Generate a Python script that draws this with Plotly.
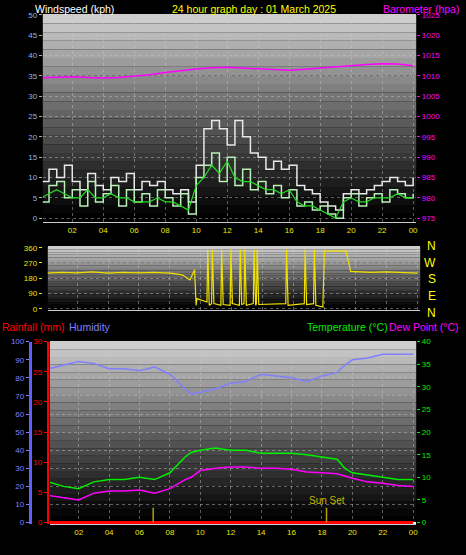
import plotly.graph_objects as go

# half-hourly wind (kph)
wind_t = [i * 0.5 for i in range(49)]
gust = [9, 12, 10, 13, 9, 7, 11, 8, 7, 10, 9, 11, 7, 9, 8, 9, 7, 6, 7, 4, 13, 22, 24, 22, 18,
        24, 20, 16, 15, 12, 14, 12, 13, 8, 7, 6, 4, 3, 2, 6, 7, 6, 7, 8, 9, 10, 9, 8, 10]
wind_raw = [4, 8, 9, 5, 7, 3, 9, 4, 6, 8, 3, 7, 4, 6, 3, 7, 5, 3, 6, 1, 10, 13, 16, 9, 15,
            8, 12, 7, 9, 6, 8, 5, 7, 3, 4, 2, 3, 1, 0, 5, 6, 3, 5, 6, 4, 7, 6, 5, 6]
wind_avg = [5, 6, 7, 6, 5, 5, 7, 5, 5, 6, 5, 5, 4, 4, 4, 5, 4, 4, 3, 2, 8, 10, 13, 11, 14,
            10, 9, 9, 8, 7, 7, 6, 7, 4, 3, 3, 2, 1, 0, 4, 5, 4, 4, 5, 5, 5, 6, 5, 5]

baro_t = list(range(25))
baro = [1009.5, 1009.7, 1009.8, 1009.6, 1009.5, 1009.6, 1009.9, 1010.3, 1010.8, 1011.3,
        1011.7, 1012.0, 1012.1, 1011.9, 1011.7, 1011.5, 1011.4, 1011.6, 1011.9, 1012.3,
        1012.6, 1012.8, 1013.0, 1012.9, 1012.5]

dir_t = [0, 1, 2, 3, 4, 5, 6, 7, 8, 8.8, 9.3, 9.6, 9.7, 9.75, 10.4, 10.45, 10.55, 10.7, 10.75,
         10.85, 11.3, 11.35, 11.45, 11.9, 11.95, 12.05, 12.5, 12.55, 12.65, 12.8, 12.85, 12.95,
         13.4, 13.45, 13.55, 13.6, 13.65, 13.75, 15.5, 15.55, 15.65, 16.7, 16.75, 16.85, 17.3,
         17.35, 17.45, 17.9, 18.0, 19.4, 19.7, 21, 22, 23, 24]
wind_dir = [210, 215, 212, 218, 210, 215, 212, 215, 210, 200, 170, 230, 20, 60, 40, 350, 20, 30,
            350, 30, 20, 350, 25, 20, 350, 30, 20, 350, 25, 30, 350, 20, 30, 350, 20, 30, 350, 25,
            30, 350, 20, 30, 350, 25, 30, 350, 20, 10, 340, 340, 220, 215, 218, 215, 210]

th_t = [0, 1, 2, 3, 4, 5, 6, 7, 8, 9, 9.4, 10, 11, 12, 13, 14, 15, 16, 17, 18, 19, 19.5, 20,
        21, 22, 23, 24]
humidity = [85, 87, 89, 88, 85, 85, 84, 86, 82, 74, 71, 72, 74, 77, 78, 82, 81, 80, 78, 81, 83,
            87, 90, 91, 93, 93, 93]
temp = [9, 8, 7.5, 9, 9.5, 9.5, 10, 9.5, 11, 14.5, 15.5, 16, 16.5, 16, 16, 15.3, 15.3, 15.3,
        15, 14.5, 14, 12, 11, 10.5, 10, 9.5, 9.5]
dew = [6, 5.5, 5, 6.5, 7, 7, 7.2, 6.5, 7.5, 9.5, 10, 11.5, 12, 12.3, 12.3, 12, 12, 11.8, 11.2,
       11, 10.8, 10.3, 9.8, 9, 8.7, 8.2, 8]
rain = [0] * len(th_t)
sun_t = [6.9, 18.3]
sun_lbl = ["", "Sun Set"]

hour_vals = list(range(2, 25, 2))
hour_txt = ["%02d" % (h % 24) for h in hour_vals]

FONT = "Liberation Sans"
W, H = 466, 555


def dom(a, b, n):
    return [a / n, b / n]


def ydom(top, bottom):
    return [(H - bottom) / H, (H - top) / H]


fig = go.Figure()

fig.add_trace(go.Scatter(x=wind_t, y=gust, mode="lines", line=dict(color="#e8e8e8", width=1.5, shape="hv"),
                         xaxis="x", yaxis="y"))
fig.add_trace(go.Scatter(x=wind_t, y=wind_raw, mode="lines", line=dict(color="#b8f0b8", width=1.5, shape="hv"),
                         xaxis="x", yaxis="y"))
fig.add_trace(go.Scatter(x=wind_t, y=wind_avg, mode="lines", line=dict(color="#22dd22", width=1.2),
                         xaxis="x", yaxis="y"))
fig.add_trace(go.Scatter(x=baro_t, y=baro, mode="lines", line=dict(color="#ff00ff", width=1.5),
                         xaxis="x", yaxis="y2"))
fig.add_trace(go.Scatter(x=dir_t, y=wind_dir, mode="lines", line=dict(color="#f0e000", width=1.2),
                         xaxis="x2", yaxis="y3"))
fig.add_trace(go.Scatter(x=th_t, y=humidity, mode="lines", line=dict(color="#8080ff", width=1.5),
                         xaxis="x3", yaxis="y4"))
fig.add_trace(go.Scatter(x=th_t, y=temp, mode="lines", line=dict(color="#00ee00", width=1.5),
                         xaxis="x3", yaxis="y6"))
fig.add_trace(go.Scatter(x=th_t, y=dew, mode="lines", line=dict(color="#ff00ff", width=1.5),
                         xaxis="x3", yaxis="y6"))
fig.add_trace(go.Scatter(x=th_t, y=rain, mode="lines", line=dict(color="#ff0000", width=3),
                         xaxis="x3", yaxis="y5"))
for t, lbl in zip(sun_t, sun_lbl):
    fig.add_trace(go.Scatter(x=[t, t], y=[0, 3.3], mode="lines", line=dict(color="#b0a000", width=1.5),
                             xaxis="x3", yaxis="y6"))
    if lbl:
        fig.add_annotation(x=t, y=3.3, xref="x3", yref="y6", text=lbl, showarrow=False,
                           yanchor="bottom", font=dict(color="#c8b800", size=10, family=FONT))

# gradient backgrounds
for xr, yr in [("x", "y"), ("x2", "y3"), ("x3", "y4")]:
    n = 24
    for i in range(n):
        g = int(205 * (1 - i / (n - 1)) ** 1.1)
        fig.add_shape(type="rect", xref=xr + " domain", yref=yr + " domain", x0=0, x1=1,
                      y0=1 - (i + 1) / n, y1=1 - i / n, fillcolor="rgb(%d,%d,%d)" % (g, g, g),
                      line=dict(width=0), layer="below")

grid = dict(showgrid=True, gridcolor="rgba(200,200,200,0.45)", griddash="dot", zeroline=False)
tf = dict(size=8, family=FONT)
xcommon = dict(range=[0.1, 24.2], tickvals=hour_vals, ticktext=hour_txt, showline=True,
               linecolor="#cccccc", mirror=True, **grid)

fig.update_layout(
    width=W, height=H, margin=dict(l=0, r=0, t=0, b=0), showlegend=False,
    paper_bgcolor="black", plot_bgcolor="rgba(0,0,0,0)",
    font=dict(family=FONT),
    xaxis=dict(domain=dom(43, 418, W), anchor="y", tickfont=dict(color="#e8e800", **tf), **xcommon),
    yaxis=dict(domain=ydom(11, 221), range=[-1, 50], dtick=5, tickfont=dict(color="#8fb4e8", **tf),
               ticks="outside", ticklen=3, tickcolor="#aaa", **grid),
    yaxis2=dict(overlaying="y", side="right", range=[974, 1025], dtick=5, showgrid=False,
                tickfont=dict(color="#ff00ff", **tf), ticks="outside", ticklen=3, tickcolor="#ff00ff"),
    xaxis2=dict(domain=dom(48, 422, W), anchor="y3", showticklabels=False, **xcommon),
    yaxis3=dict(domain=ydom(246, 310), range=[-8, 365], tickvals=[0, 90, 180, 270, 360],
                tickfont=dict(color="#e8e800", **tf), ticks="outside", ticklen=3, tickcolor="#e8e800", **grid),
    xaxis3=dict(domain=dom(50, 418, W), anchor="y4", tickfont=dict(color="#e8e800", **tf), **xcommon),
    yaxis4=dict(domain=ydom(342, 527), range=[-1, 100], dtick=10, anchor="free", position=30 / W,
                showline=True, linecolor="#6060ff", linewidth=3, tickfont=dict(color="#8080ff", **tf),
                ticks="outside", ticklen=3, tickcolor="#8080ff", **grid),
    yaxis5=dict(overlaying="y4", anchor="free", position=48 / W, range=[-0.3, 30], dtick=5,
                showgrid=False, showline=True, linecolor="#ff0000", linewidth=2,
                tickfont=dict(color="#ff0000", **tf), ticks="outside", ticklen=3, tickcolor="#ff0000"),
    yaxis6=dict(overlaying="y4", side="right", range=[-0.4, 40], dtick=5, showgrid=False,
                tickfont=dict(color="#00ee00", **tf), ticks="outside", ticklen=3, tickcolor="#00ee00"),
)


def label(x, y, text, color, xanchor="left", size=11):
    fig.add_annotation(x=x / W, y=1 - y / H, xref="paper", yref="paper", text=text, showarrow=False,
                       xanchor=xanchor, yanchor="middle",
                       font=dict(color=color, size=size, family=FONT))


label(33, 5, "Windspeed (kph)", "white", size=10.5)
label(255, 5, "24 hour graph day : 01 March 2025", "#ffff00", "center", size=10.5)
label(463, 5, "Barometer (hpa)", "#ff00ff", "right", size=10.5)
label(0, 327, "Rainfall (mm)", "#ff0000", size=10.5)
label(67, 327, "Humidity", "#8080ff", size=10.5)
label(392, 327, "Temperature (°C)", "#00ee00", "right", size=10.5)
label(463, 327, "Dew Point (°C)", "#ff00ff", "right", size=10.5)
for i, c in enumerate("NWSEN"):
    fig.add_annotation(x=440 / W, y=1 - (245 + i * 17) / H, xref="paper", yref="paper", text=c,
                       showarrow=False, font=dict(color="#ffff00", size=12, family=FONT))

fig.write_html("out.html", config={"displayModeBar": False},
               post_script="document.body.style.margin='0';document.body.style.overflow='hidden';")
